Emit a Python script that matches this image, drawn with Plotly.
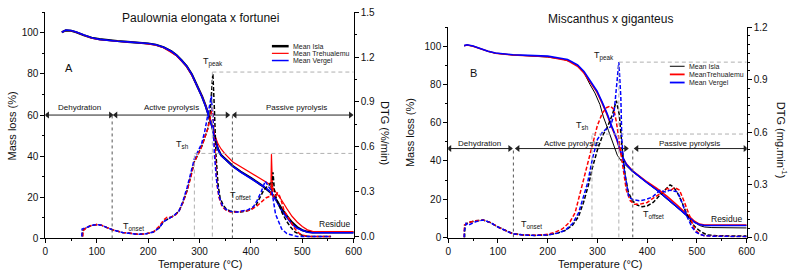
import plotly.graph_objects as go

# ---------------- Panel A: Paulownia elongata x fortunei ----------------
# TG (mass loss, %)
A_tg_isla_T = [32, 40, 50, 60, 75, 90, 105, 120, 140, 160, 180, 200, 215, 230, 245, 255, 265, 275, 285, 295,
               305, 312, 318, 324, 330, 336, 342, 350, 365, 380, 400, 420, 430, 440, 450, 460, 470, 480, 490,
               500, 510, 520, 540, 570, 600]
A_tg_isla = [100.3, 101.2, 101.0, 100.3, 98.8, 97.6, 96.9, 96.4, 96.0, 95.6, 95.3, 94.8, 94.2, 93.0, 91.0,
             89.2, 86.6, 83.8, 79.8, 74.7, 69.0, 64.5, 60.0, 55.0, 49.0, 43.5, 40.5, 38.5, 35.2, 32.5, 29.5,
             26.0, 24.0, 22.0, 18.5, 14.4, 11.0, 7.8, 5.5, 4.0, 3.3, 3.0, 3.0, 3.0, 3.0]
A_tg_treh_T = [32, 40, 50, 60, 75, 90, 105, 120, 140, 160, 180, 200, 215, 230, 245, 255, 265, 275, 285, 295,
               305, 312, 318, 324, 330, 336, 342, 350, 365, 380, 400, 420, 430, 439, 440, 441, 442, 450, 460,
               470, 480, 490, 500, 510, 520, 540, 570, 600]
A_tg_treh = [100.3, 101.2, 101.0, 100.3, 98.8, 97.4, 96.6, 96.2, 95.9, 95.5, 95.2, 94.7, 94.0, 92.7, 90.6,
             88.8, 86.2, 83.4, 79.4, 74.5, 69.0, 64.6, 60.2, 55.5, 50.0, 46.0, 43.5, 41.0, 37.2, 35.0, 32.0,
             29.0, 27.5, 26.0, 41.0, 25.5, 25.0, 22.0, 18.6, 14.5, 10.8, 8.0, 5.8, 4.2, 3.5, 3.3, 3.3, 3.3]
A_tg_verg_T = A_tg_isla_T
A_tg_verg = [100.3, 101.3, 101.1, 100.4, 98.9, 97.6, 96.8, 96.3, 95.9, 95.6, 95.3, 94.8, 94.2, 93.0, 91.0,
             89.2, 86.6, 83.8, 79.8, 74.6, 68.8, 64.2, 59.8, 54.8, 48.8, 43.3, 40.3, 38.3, 35.0, 32.3, 29.3,
             26.0, 24.4, 22.2, 18.2, 13.5, 10.0, 7.0, 5.0, 3.8, 3.0, 2.8, 2.8, 2.8, 2.8]

# DTG (%/min)
A_dtg_isla_T = [72, 72.5, 80, 90, 100, 110, 120, 135, 150, 165, 180, 195, 210, 222, 230, 240, 250, 260, 268,
                276, 284, 290, 297, 304, 310, 316, 320, 323, 326, 329, 332, 336, 340, 346, 352, 360, 370, 380,
                390, 400, 410, 418, 425, 430, 435, 438, 441, 443, 446, 450, 456, 462, 470, 478, 486, 494, 502,
                515, 535, 556]
A_dtg_isla = [0, 0.04, 0.06, 0.075, 0.08, 0.075, 0.06, 0.04, 0.028, 0.02, 0.015, 0.018, 0.03, 0.06, 0.1,
              0.12, 0.14, 0.17, 0.23, 0.31, 0.41, 0.5, 0.55, 0.6, 0.66, 0.72, 0.8, 0.95, 1.09, 0.85, 0.55,
              0.35, 0.26, 0.21, 0.185, 0.17, 0.165, 0.165, 0.17, 0.18, 0.21, 0.26, 0.31, 0.33, 0.34, 0.36,
              0.3, 0.43, 0.3, 0.25, 0.2, 0.15, 0.1, 0.06, 0.03, 0.015, 0.005, 0, 0, 0]
A_dtg_treh_T = [73, 73.5, 80, 90, 100, 110, 120, 135, 150, 165, 180, 195, 210, 222, 230, 237, 245, 252, 260,
                268, 276, 284, 290, 297, 304, 310, 316, 320, 323, 325, 328, 331, 334, 338, 344, 352, 360, 370,
                380, 390, 400, 410, 420, 430, 438, 441, 444, 448, 452, 456, 460, 464, 472, 479, 486, 493, 500,
                515, 535, 556]
A_dtg_treh = [0, 0.04, 0.06, 0.075, 0.08, 0.075, 0.06, 0.04, 0.028, 0.02, 0.015, 0.018, 0.03, 0.07, 0.11,
              0.13, 0.13, 0.14, 0.17, 0.23, 0.31, 0.41, 0.5, 0.55, 0.6, 0.66, 0.72, 0.78, 0.83, 0.86, 0.7,
              0.5, 0.35, 0.26, 0.2, 0.175, 0.165, 0.165, 0.165, 0.17, 0.18, 0.2, 0.23, 0.26, 0.27, 0.36, 0.26,
              0.27, 0.29, 0.27, 0.23, 0.18, 0.13, 0.09, 0.05, 0.025, 0.01, 0, 0, 0]
A_dtg_verg_T = [71, 71.5, 80, 90, 100, 110, 120, 135, 150, 165, 180, 195, 210, 222, 230, 240, 250, 260, 268,
                276, 284, 290, 297, 304, 310, 316, 320, 323, 326, 329, 333, 338, 344, 350, 358, 366, 375, 385,
                395, 405, 412, 420, 428, 435, 441, 448, 455, 460, 470, 480, 490, 505, 530, 556]
A_dtg_verg = [0, 0.05, 0.06, 0.075, 0.08, 0.075, 0.06, 0.04, 0.028, 0.02, 0.015, 0.018, 0.03, 0.06, 0.1,
              0.12, 0.14, 0.17, 0.24, 0.33, 0.43, 0.52, 0.57, 0.62, 0.7, 0.8, 0.88, 0.94, 0.8, 0.55, 0.38, 0.27,
              0.21, 0.185, 0.17, 0.165, 0.165, 0.17, 0.18, 0.2, 0.24, 0.3, 0.37, 0.33, 0.3, 0.15, 0.09, 0.05,
              0.02, 0.01, 0, 0, 0, 0]

# characteristic temperatures / DTG levels
A_T_onset, A_T_sh, A_T_peak, A_T_offset = 130, 290, 325, 364
A_dtg_sh, A_dtg_peak = 0.556, 1.1
A_stage_level = 60
A_stages = [("Dehydration", 4, 127), ("Active pyrolysis", 137, 354), ("Passive pyrolysis", 369, 594)]

# ---------------- Panel B: Miscanthus x giganteus ----------------
B_tg_isla_T = [32, 38, 50, 65, 80, 95, 110, 130, 160, 200, 230, 250, 262, 272, 285, 295, 305, 312, 322, 332,
               340, 348, 358, 370, 385, 400, 420, 440, 460, 480, 495, 505, 515, 530, 560, 600]
B_tg_isla = [100.2, 100.6, 100.0, 98.6, 97.3, 96.3, 95.8, 95.4, 95.0, 94.3, 93.2, 91.5, 89.5, 86.6, 80.0,
             75.5, 69.5, 63.0, 56.0, 48.5, 43.0, 40.0, 37.5, 34.5, 31.5, 28.5, 24.5, 20.0, 15.5, 11.0, 8.0,
             6.3, 5.5, 5.2, 5.0, 5.0]
B_tg_treh_T = [32, 38, 50, 65, 80, 95, 110, 130, 160, 200, 240, 260, 273, 285, 299, 309, 319, 329, 339, 349,
               358, 370, 385, 400, 420, 440, 460, 480, 495, 505, 515, 530, 560, 600]
B_tg_treh = [100.2, 100.6, 100.0, 98.6, 97.3, 96.3, 95.8, 95.4, 95.0, 94.5, 92.5, 89.5, 86.0, 81.5, 76.0,
             70.5, 64.5, 57.5, 51.0, 42.5, 38.5, 35.0, 32.0, 29.0, 25.5, 21.5, 17.0, 12.0, 8.5, 7.0, 6.5, 6.5,
             6.5, 6.5]
B_tg_verg_T = B_tg_treh_T
B_tg_verg = [100.3, 100.7, 100.1, 98.7, 97.4, 96.4, 95.9, 95.5, 95.2, 94.8, 93.0, 90.2, 86.8, 82.3, 76.6,
             71.0, 65.0, 58.0, 51.5, 43.0, 38.3, 34.8, 31.6, 28.5, 24.8, 20.5, 16.0, 11.3, 8.0, 6.8, 6.3, 6.3,
             6.3, 6.3]

B_dtg_isla_T = [33, 33.5, 40, 55, 70, 85, 100, 115, 130, 150, 175, 200, 220, 235, 250, 262, 272, 282, 290,
                300, 310, 320, 330, 338, 344, 350, 356, 362, 370, 380, 390, 400, 412, 425, 438, 446, 452, 460,
                470, 480, 490, 500, 510, 520, 540, 570, 600]
B_dtg_isla = [0, 0.07, 0.085, 0.095, 0.1, 0.085, 0.06, 0.04, 0.022, 0.015, 0.012, 0.015, 0.025, 0.04, 0.07,
              0.12, 0.2, 0.3, 0.4, 0.5, 0.58, 0.63, 0.7, 0.78, 0.7, 0.5, 0.35, 0.26, 0.21, 0.185, 0.175, 0.18,
              0.2, 0.24, 0.28, 0.3, 0.29, 0.26, 0.2, 0.13, 0.08, 0.05, 0.03, 0.015, 0.01, 0.008, 0.008]
B_dtg_treh_T = [32, 32.5, 40, 55, 70, 85, 100, 115, 130, 150, 175, 200, 215, 230, 245, 255, 265, 273, 282,
                290, 300, 310, 318, 326, 333, 338, 343, 350, 358, 366, 374, 385, 400, 415, 432, 440, 448, 455,
                465, 475, 485, 495, 505, 515, 530, 560, 600]
B_dtg_treh = [0, 0.07, 0.085, 0.095, 0.1, 0.085, 0.06, 0.04, 0.02, 0.015, 0.013, 0.018, 0.03, 0.05, 0.09,
              0.14, 0.25, 0.34, 0.45, 0.54, 0.64, 0.71, 0.74, 0.75, 0.73, 0.66, 0.56, 0.4, 0.27, 0.21, 0.19,
              0.19, 0.2, 0.23, 0.26, 0.28, 0.27, 0.285, 0.27, 0.2, 0.12, 0.05, 0.02, 0.01, 0.008, 0.005, 0.005]
B_dtg_verg_T = [32, 32.5, 36, 40, 55, 70, 85, 100, 115, 130, 150, 175, 200, 220, 235, 250, 262, 270, 280,
                290, 300, 310, 318, 326, 333, 338, 343, 347, 349, 353, 358, 363, 372, 385, 395, 410, 426, 436,
                446, 454, 461, 470, 480, 490, 498, 505, 515, 530, 560, 600]
B_dtg_verg = [0, 0.04, 0.08, 0.07, 0.09, 0.1, 0.085, 0.06, 0.04, 0.02, 0.015, 0.012, 0.015, 0.025, 0.04,
              0.08, 0.14, 0.21, 0.31, 0.45, 0.56, 0.6, 0.62, 0.63, 0.7, 0.85, 1.0, 0.8, 0.56, 0.4, 0.3, 0.23,
              0.215, 0.21, 0.215, 0.23, 0.27, 0.26, 0.27, 0.265, 0.26, 0.2, 0.12, 0.06, 0.03, 0.02, 0.01,
              0.008, 0.005, 0.005]

B_T_onset, B_T_sh, B_T_peak, B_T_offset = 131, 289, 343, 371
B_dtg_sh, B_dtg_peak = 0.59, 1.0
B_stage_level = 46.5
B_stages = [("Dehydration", 3, 124), ("Active pyrolysis", 140, 357), ("Passive pyrolysis", 379, 597)]

series_names_A = ["Mean Isla", "Mean Trehualemu", "Mean Vergel"]
series_names_B = ["Mean Isla", "MeanTrehualemu", "Mean Vergel"]
colors = ["#000000", "#ff0000", "#0000ff"]

FONT = "Arial, Liberation Sans, sans-serif"
W, H = 800, 277

def X(px):  # window pixel -> paper fraction
    return px / W

def Y(py):
    return 1 - py / H

fig = go.Figure()

A_tg = [(A_tg_isla_T, A_tg_isla), (A_tg_treh_T, A_tg_treh), (A_tg_verg_T, A_tg_verg)]
A_dtg = [(A_dtg_isla_T, A_dtg_isla), (A_dtg_treh_T, A_dtg_treh), (A_dtg_verg_T, A_dtg_verg)]
B_tg = [(B_tg_isla_T, B_tg_isla), (B_tg_treh_T, B_tg_treh), (B_tg_verg_T, B_tg_verg)]
B_dtg = [(B_dtg_isla_T, B_dtg_isla), (B_dtg_treh_T, B_dtg_treh), (B_dtg_verg_T, B_dtg_verg)]
A_w = [2.2, 1.2, 1.6]
B_w = [1.0, 1.6, 1.6]

def stage_arrows(xa, ya, stages, lvl):
    for name, t0, t1 in stages:
        fig.add_trace(go.Scatter(x=[t0, t1], y=[lvl, lvl], xaxis=xa, yaxis=ya, mode="lines+markers",
                                 line=dict(color="#222222", width=1),
                                 marker=dict(symbol=["triangle-left", "triangle-right"], size=6,
                                             color="#222222"),
                                 showlegend=False, hoverinfo="skip", name=name))

stage_arrows("x", "y", A_stages, A_stage_level)
stage_arrows("x2", "y3", B_stages, B_stage_level)

for i in range(3):
    fig.add_trace(go.Scatter(x=A_dtg[i][0], y=A_dtg[i][1], mode="lines", xaxis="x", yaxis="y2",
                             line=dict(color=colors[i], width=1.5, dash="4px,2px"), showlegend=False,
                             name=series_names_A[i] + " DTG"))
for i in range(3):
    fig.add_trace(go.Scatter(x=A_tg[i][0], y=A_tg[i][1], mode="lines", xaxis="x", yaxis="y",
                             line=dict(color=colors[i], width=A_w[i]), showlegend=False,
                             name=series_names_A[i]))
for i in range(3):
    fig.add_trace(go.Scatter(x=B_dtg[i][0], y=B_dtg[i][1], mode="lines", xaxis="x2", yaxis="y4",
                             line=dict(color=colors[i], width=1.5, dash="4px,2px"), showlegend=False,
                             name=series_names_B[i] + " DTG"))
for i in range(3):
    fig.add_trace(go.Scatter(x=B_tg[i][0], y=B_tg[i][1], mode="lines", xaxis="x2", yaxis="y3",
                             line=dict(color=colors[i], width=B_w[i]), showlegend=False,
                             name=series_names_B[i]))

shapes = []
annotations = []

def ref_lines(xr, yl, yr, T_on, T_sh, T_pk, T_off, d_sh, d_pk, lvl):
    dot = dict(color="#555555", width=1, dash="dot")
    gd = dict(color="#b0b0b0", width=1, dash="4px,3px")
    shapes.append(dict(type="line", xref=xr, yref=yl, x0=T_on, x1=T_on, y0=0, y1=lvl, line=dot))
    shapes.append(dict(type="line", xref=xr, yref=yl, x0=T_off, x1=T_off, y0=0, y1=lvl, line=dot))
    shapes.append(dict(type="line", xref=xr, yref=yr, x0=T_sh, x1=T_sh, y0=0, y1=d_sh, line=gd))
    shapes.append(dict(type="line", xref=xr, yref=yr, x0=T_pk, x1=T_pk, y0=0, y1=d_pk, line=gd))
    shapes.append(dict(type="line", xref=xr, yref=yr, x0=T_sh, x1=600, y0=d_sh, y1=d_sh, line=gd))
    shapes.append(dict(type="line", xref=xr, yref=yr, x0=T_pk, x1=600, y0=d_pk, y1=d_pk, line=gd))

ref_lines("x", "y", "y2", A_T_onset, A_T_sh, A_T_peak, A_T_offset, A_dtg_sh, A_dtg_peak, A_stage_level)
ref_lines("x2", "y3", "y4", B_T_onset, B_T_sh, B_T_peak, B_T_offset, B_dtg_sh, B_dtg_peak, B_stage_level)

def txt(xr, yr, x, y, s, size=8, xanchor="center"):
    annotations.append(dict(xref=xr, yref=yr, x=x, y=y, text=s, showarrow=False,
                            font=dict(family=FONT, size=size, color="#111111"), xanchor=xanchor,
                            yanchor="middle"))

# Panel A labels
txt("x", "y", 46, 82.8, "A", 11)
for name, t0, t1 in A_stages:
    txt("x", "y", (t0 + t1) / 2 if name != "Passive pyrolysis" else 489, 63.6, name)
txt("x", "y", 326, 86, "T<sub>peak</sub>", 9)
txt("x", "y", 266, 45.6, "T<sub>sh</sub>", 9)
txt("x", "y", 172, 6.0, "T<sub>onset</sub>", 9)
txt("x", "y", 380, 21, "T<sub>offset</sub>", 9)
txt("x", "y", 563, 7.2, "Residue", 8.5)
# Panel B labels
txt("x2", "y3", 50, 86, "B", 11)
for name, t0, t1 in B_stages:
    txt("x2", "y3", (t0 + t1) / 2 if name != "Passive pyrolysis" else 485, 49.3, name)
txt("x2", "y3", 313, 95, "T<sub>peak</sub>", 9)
txt("x2", "y3", 269, 58.5, "T<sub>sh</sub>", 9)
txt("x2", "y3", 168, 7, "T<sub>onset</sub>", 9)
txt("x2", "y3", 412, 12, "T<sub>offset</sub>", 9)
txt("x2", "y3", 560, 9.5, "Residue", 8.5)

def ptxt(px, py, s, size, angle=0):
    annotations.append(dict(xref="paper", yref="paper", x=X(px), y=Y(py), text=s, showarrow=False,
                            textangle=angle, xanchor="center", yanchor="middle",
                            font=dict(family=FONT, size=size, color="#111111")))

ptxt(200, 13, "Paulownia elongata x fortunei", 12)
ptxt(617, 14, "Miscanthus x giganteus", 12)
ptxt(200, 269.5, "Temperature (°C)", 11)
ptxt(606, 269.5, "Temperature (°C)", 11)
ptxt(9, 125, "Mass loss (%)", 11, -90)
ptxt(413, 132, "Mass loss (%)", 11, -90)
ptxt(388, 133, "DTG (%/min)", 11, 90)
ptxt(791, 140, "DTG (mg.min<sup>-1</sup>)", 11, 90)

def legend(px0, px1, rows, names, widths):
    for (py, nm, c, w) in zip(rows, names, colors, widths):
        shapes.append(dict(type="line", xref="paper", yref="paper", x0=X(px0), x1=X(px1), y0=Y(py),
                           y1=Y(py), line=dict(color=c, width=w)))
        annotations.append(dict(xref="paper", yref="paper", x=X(px1 + 2), y=Y(py), text=nm,
                                showarrow=False, xanchor="left", yanchor="middle",
                                font=dict(family=FONT, size=7, color="#222222")))

legend(273, 290, [42, 49.5, 57], series_names_A, [2.5, 1.2, 1.5])
legend(677, 692, [63, 71.5, 80], series_names_B, [1, 1.8, 1.8])

axis_common = dict(showline=True, linecolor="black", linewidth=1, ticks="outside", ticklen=4,
                   tickcolor="black", showgrid=False, zeroline=False,
                   tickfont=dict(family=FONT, size=10, color="#111111"))

fig.update_layout(
    width=W, height=H, margin=dict(l=0, r=0, t=0, b=0),
    paper_bgcolor="white", plot_bgcolor="white",
    xaxis=dict(domain=[X(43), X(356)], range=[0, 600], dtick=100, anchor="y",
               minor=dict(dtick=50, ticks="outside", ticklen=2, tickcolor="black"), **axis_common),
    yaxis=dict(domain=[Y(243), Y(6.5)], range=[0, 110], tickvals=[0, 20, 40, 60, 80, 100],
               anchor="x", minor=dict(dtick=10, ticks="outside", ticklen=2, tickcolor="black"),
               **axis_common),
    yaxis2=dict(overlaying="y", side="right", anchor="x", range=[-0.0127, 1.5],
                tickvals=[0, 0.3, 0.6, 0.9, 1.2, 1.5], tickformat=".1f",
                minor=dict(tickvals=[0.15, 0.45, 0.75, 1.05, 1.35], ticks="outside", ticklen=2,
                           tickcolor="black"), **axis_common),
    xaxis2=dict(domain=[X(452), X(755)], range=[0, 600], dtick=100, anchor="y3",
                minor=dict(dtick=50, ticks="outside", ticklen=2, tickcolor="black"), **axis_common),
    yaxis3=dict(domain=[Y(242), Y(22)], range=[0, 110], tickvals=[0, 20, 40, 60, 80, 100],
                anchor="x2", minor=dict(dtick=10, ticks="outside", ticklen=2, tickcolor="black"),
                **axis_common),
    yaxis4=dict(overlaying="y3", side="right", anchor="x2", range=[0, 1.2],
                tickvals=[0, 0.3, 0.6, 0.9, 1.2], tickformat=".1f",
                minor=dict(dtick=0.05, ticks="outside", ticklen=2, tickcolor="black"), **axis_common),
    shapes=shapes, annotations=annotations, showlegend=False,
)

fig.write_html("out.html", config={"displayModeBar": False},
               post_script="document.body.style.margin='0px';document.body.style.overflow='hidden';")
